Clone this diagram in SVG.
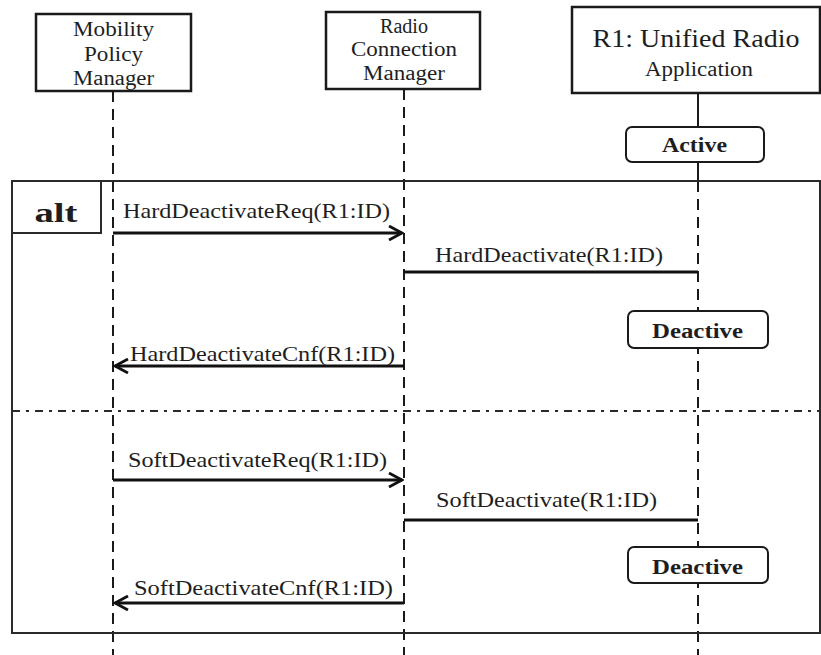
<svg xmlns="http://www.w3.org/2000/svg" width="821" height="655" viewBox="0 0 821 655">
<defs>
<style>
.bg{fill:#ffffff}
.box{fill:#ffffff;stroke:#1a1a1a;stroke-width:2.5}
.state{fill:#ffffff;stroke:#1a1a1a;stroke-width:2}
.life{stroke:#1a1a1a;stroke-width:2;stroke-dasharray:11 7;fill:none}
.solid{stroke:#1a1a1a;stroke-width:2;fill:none}
.msg{stroke:#111111;stroke-width:2.8;fill:none}
.frame{fill:none;stroke:#2a2a2a;stroke-width:2}
.divider{stroke:#2a2a2a;stroke-width:2;stroke-dasharray:8 6 3 6;fill:none}
.t{font-family:'Liberation Serif',Tinos,'Times New Roman',Times,serif;fill:#1e1e1e}
.b{font-family:'Liberation Serif',Tinos,'Times New Roman',Times,serif;font-weight:bold;fill:#1e1e1e}
</style>
<marker id="open" viewBox="0 0 16 16" refX="14" refY="8" markerWidth="16" markerHeight="16" markerUnits="userSpaceOnUse" orient="auto">
<path d="M1,1 L14,8 L1,15" fill="none" stroke="#111111" stroke-width="2.8"/>
</marker>
</defs>
<rect class="bg" x="0" y="0" width="821" height="655"/>

<g id="lifelines">
<line class="life" x1="113" y1="91" x2="113" y2="655"/>
<line class="life" x1="404" y1="89" x2="404" y2="655"/>
<line class="solid" x1="698" y1="93" x2="698" y2="127"/>
<line class="solid" x1="698" y1="162" x2="698" y2="181"/>
<line class="life" x1="698" y1="181" x2="698" y2="655"/>
</g>

<g id="alt-frame">
<rect class="frame" x="12" y="181" width="808" height="452"/>
<path class="frame" d="M12,233 H101 V181"/>
<text class="b" x="56" y="222" font-size="28" text-anchor="middle" textLength="43" lengthAdjust="spacingAndGlyphs">alt</text>
<line class="divider" x1="12" y1="411" x2="820" y2="411"/>
</g>

<g id="mobility-policy-manager">
<rect class="box" x="36" y="14" width="155" height="77"/>
<text class="t" font-size="20.5" text-anchor="middle"><tspan x="113.5" y="36" textLength="81" lengthAdjust="spacingAndGlyphs">Mobility</tspan><tspan x="113.5" y="61" textLength="59" lengthAdjust="spacingAndGlyphs">Policy</tspan><tspan x="113.5" y="85" textLength="81" lengthAdjust="spacingAndGlyphs">Manager</tspan></text>
</g>

<g id="radio-connection-manager">
<rect class="box" x="326" y="12" width="154" height="77"/>
<text class="t" font-size="20.5" text-anchor="middle"><tspan x="404" y="33" textLength="48" lengthAdjust="spacingAndGlyphs">Radio</tspan><tspan x="404" y="56" textLength="106" lengthAdjust="spacingAndGlyphs">Connection</tspan><tspan x="404" y="80" textLength="82" lengthAdjust="spacingAndGlyphs">Manager</tspan></text>
</g>

<g id="unified-radio-application">
<rect class="box" x="572" y="7" width="248" height="86"/>
<text class="t" x="696" y="47" font-size="24.5" text-anchor="middle" textLength="207" lengthAdjust="spacingAndGlyphs">R1: Unified Radio</text>
<text class="t" x="699" y="76" font-size="20.5" text-anchor="middle" textLength="108" lengthAdjust="spacingAndGlyphs">Application</text>
</g>

<g id="state-active">
<rect class="state" x="626" y="127" width="138" height="35" rx="6"/>
<text class="b" x="694.5" y="152" font-size="20.5" text-anchor="middle" textLength="65" lengthAdjust="spacingAndGlyphs">Active</text>
</g>

<g id="state-deactive-1">
<rect class="state" x="628" y="311" width="140" height="37" rx="6"/>
<text class="b" x="697.5" y="338" font-size="20.5" text-anchor="middle" textLength="91" lengthAdjust="spacingAndGlyphs">Deactive</text>
</g>

<g id="state-deactive-2">
<rect class="state" x="628" y="547" width="140" height="36" rx="6"/>
<text class="b" x="697.5" y="574" font-size="20.5" text-anchor="middle" textLength="91" lengthAdjust="spacingAndGlyphs">Deactive</text>
</g>

<g id="connectors">
<line class="msg" x1="113" y1="233" x2="402" y2="233" marker-end="url(#open)"/>
<text class="t" x="123" y="218" font-size="21.5" textLength="267" lengthAdjust="spacingAndGlyphs">HardDeactivateReq(R1:ID)</text>

<line class="msg" x1="698" y1="272" x2="404" y2="272"/>
<text class="t" x="435" y="262" font-size="21.5" textLength="228" lengthAdjust="spacingAndGlyphs">HardDeactivate(R1:ID)</text>

<line class="msg" x1="404" y1="366" x2="115" y2="366" marker-end="url(#open)"/>
<text class="t" x="130" y="361" font-size="21.5" textLength="265" lengthAdjust="spacingAndGlyphs">HardDeactivateCnf(R1:ID)</text>

<line class="msg" x1="113" y1="480" x2="402" y2="480" marker-end="url(#open)"/>
<text class="t" x="128" y="467" font-size="21.5" textLength="259" lengthAdjust="spacingAndGlyphs">SoftDeactivateReq(R1:ID)</text>

<line class="msg" x1="698" y1="520" x2="404" y2="520"/>
<text class="t" x="436" y="507" font-size="21.5" textLength="221" lengthAdjust="spacingAndGlyphs">SoftDeactivate(R1:ID)</text>

<line class="msg" x1="404" y1="603" x2="115" y2="603" marker-end="url(#open)"/>
<text class="t" x="134" y="595" font-size="21.5" textLength="259" lengthAdjust="spacingAndGlyphs">SoftDeactivateCnf(R1:ID)</text>
</g>
</svg>
